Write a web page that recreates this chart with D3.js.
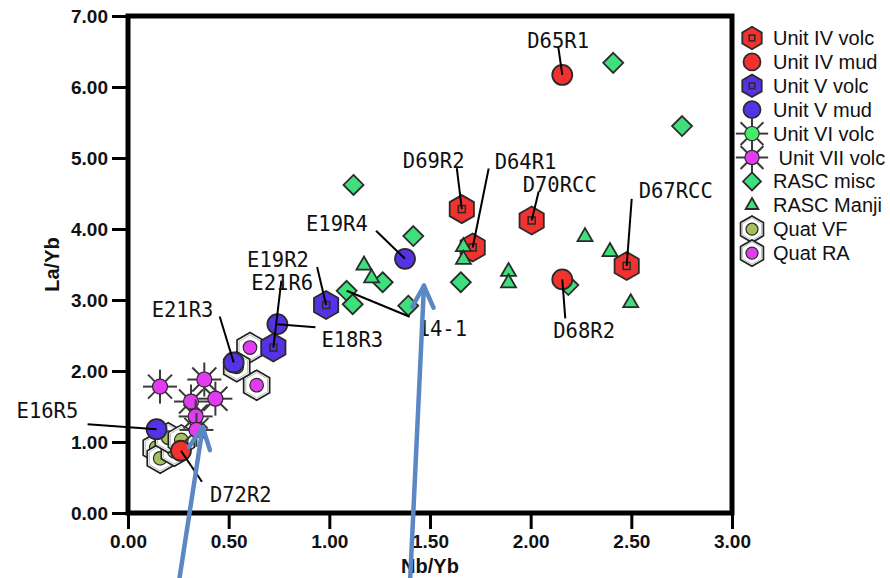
<!DOCTYPE html>
<html>
<head>
<meta charset="utf-8">
<script src="https://cdn.jsdelivr.net/npm/d3@7"></script>
<style>
  body { margin: 0; background: #fff; }
  .tick text { font-family: "Liberation Sans", Arial, sans-serif; font-weight: bold; font-size: 19px; fill: #111; }
  .tick line { stroke: #000; stroke-width: 3; }
  .domain { display: none; }
</style>
</head>
<body>
<svg id="chart" width="890" height="578"></svg>
<script>
// La/Yb against Nb/Yb, grouped by unit and sample type
const unitIVvolc = [
  { id: "D69R2", x: 1.658, y: 4.28 },
  { id: "D64R1", x: 1.712, y: 3.74 },
  { id: "D70RCC", x: 2.005, y: 4.12 },
  { id: "D67RCC", x: 2.477, y: 3.48 }
];
const unitIVmud = [
  { id: "D65R1", x: 2.157, y: 6.17 },
  { id: "D68R2", x: 2.157, y: 3.29 },
  { id: "D72R2", x: 0.263, y: 0.877 }
];
const unitVvolc = [
  { id: "E19R2", x: 0.984, y: 2.93 },
  { id: "E21R6", x: 0.722, y: 2.33 }
];
const unitVmud = [
  { id: "E19R4", x: 1.376, y: 3.58 },
  { id: "E18R3", x: 0.742, y: 2.66 },
  { id: "E21R3", x: 0.525, y: 2.12 },
  { id: "E16R5", x: 0.142, y: 1.18 }
];
const unitVIvolc = [];
const unitVIIvolc = [
  { x: 0.159, y: 1.78 }, { x: 0.379, y: 1.88 }, { x: 0.313, y: 1.57 },
  { x: 0.434, y: 1.61 }, { x: 0.336, y: 1.36 }, { x: 0.340, y: 1.17 }
];
const rascMisc = [
  { x: 2.41, y: 6.34 }, { x: 2.752, y: 5.45 }, { x: 1.12, y: 4.62 },
  { x: 1.417, y: 3.90 }, { x: 1.265, y: 3.25 }, { x: 1.653, y: 3.25 },
  { x: 2.187, y: 3.21 }, { id: "14-1", x: 1.086, y: 3.13 },
  { x: 1.116, y: 2.94 }, { x: 1.392, y: 2.92 }
];
const rascManji = [
  { x: 1.172, y: 3.49 }, { x: 1.21, y: 3.31 }, { x: 1.666, y: 3.75 },
  { x: 1.666, y: 3.57 }, { x: 1.89, y: 3.40 }, { x: 1.89, y: 3.24 },
  { x: 2.27, y: 3.89 }, { x: 2.394, y: 3.68 }, { x: 2.497, y: 2.96 }
];
const quatVF = [
  { x: 0.14, y: 0.92 }, { x: 0.16, y: 0.77 }, { x: 0.23, y: 0.87 },
  { x: 0.20, y: 1.06 }, { x: 0.265, y: 1.03 }
];
const quatRA = [
  { x: 0.606, y: 2.33 }, { x: 0.639, y: 1.80 }, { x: 0.54, y: 2.06 }
];

const xTicks = [0, 0.5, 1, 1.5, 2, 2.5, 3];
const yTicks = [0, 1, 2, 3, 4, 5, 6, 7];
const xTitle = "Nb/Yb";
const yTitle = "La/Yb";

// Sample labels: text offset (tx, ty) and leader start (lx, ly) from the point, in px
const sampleLabels = [
  { id: "D65R1", tx: -35, ty: -27, lx: -4, ly: -28 },
  { id: "D69R2", tx: -59, ty: -41, lx: -5, ly: -41 },
  { id: "D64R1", tx: 22, ty: -78, lx: 16, ly: -79 },
  { id: "D70RCC", tx: -9, ty: -28, lx: 7, ly: -29 },
  { id: "D67RCC", tx: 12, ty: -68, lx: 5, ly: -67 },
  { id: "D68R2", tx: -9, ty: 59, lx: 3, ly: 39 },
  { id: "14-1", tx: 71, ty: 45, lx: 63, ly: 26 },
  { id: "E19R4", tx: -99, ty: -28, lx: -29, ly: -28 },
  { id: "E19R2", tx: -79, ty: -38, lx: -9, ly: -38 },
  { id: "E21R6", tx: -22, ty: -58, lx: 8, ly: -67 },
  { id: "E18R3", tx: 44, ty: 23, lx: 38, ly: 3 },
  { id: "E21R3", tx: -82, ty: -45, lx: -14, ly: -46 },
  { id: "E16R5", tx: -140, ty: -11, lx: -69, ly: -5 },
  { id: "D72R2", tx: 29, ty: 51, lx: 21, ly: 31 }
];

// Arrows in data units (tail below the axis, tip inside the plot)
const arrows = [
  { x0: 0.253, y0: -0.97, x1: 0.371, y1: 1.207 },
  { x0: 1.401, y0: -0.97, x1: 1.470, y1: 3.20 }
];

const C = {
  red: "#f2322f", blue: "#5632e6", green: "#3fe07c", lime: "#45ec6a",
  magenta: "#e23cf2", olive: "#a6c05a", stroke: "#2b2b2b"
};

const svg = d3.select("#chart");
const margin = { left: 128, right: 158, top: 16, bottom: 65 };
const W = 890, H = 578;
const x = d3.scaleLinear().domain([0, 3]).range([margin.left, W - margin.right]);
const y = d3.scaleLinear().domain([0, 7]).range([H - margin.bottom, margin.top]);

// axes
svg.append("g")
  .attr("transform", `translate(0,${y(0)})`)
  .call(d3.axisBottom(x).tickValues(xTicks).tickFormat(d3.format(".2f"))
    .tickSize(16).tickSizeOuter(0).tickPadding(6));
svg.append("g")
  .attr("transform", `translate(${x(0)},0)`)
  .call(d3.axisLeft(y).tickValues(yTicks).tickFormat(d3.format(".2f"))
    .tickSize(16).tickSizeOuter(0).tickPadding(4));

svg.append("text")
  .attr("x", (x(0) + x(3)) / 2).attr("y", 573)
  .attr("text-anchor", "middle")
  .style("font-family", "'Liberation Sans Narrow', 'Liberation Sans', sans-serif")
  .style("font-weight", "bold").style("font-size", "20px").style("fill", "#111")
  .text(xTitle);
svg.append("text")
  .attr("transform", `translate(59,${(y(0) + y(7)) / 2}) rotate(-90)`)
  .attr("text-anchor", "middle")
  .style("font-family", "'Liberation Sans Narrow', 'Liberation Sans', sans-serif")
  .style("font-weight", "bold").style("font-size", "20px").style("fill", "#111")
  .text(yTitle);

// marker shapes
function hexPath(r) {
  const pts = d3.range(6).map(i => {
    const a = -Math.PI / 2 + i * Math.PI / 3;
    return [r * Math.cos(a), r * Math.sin(a)];
  });
  return "M" + pts.map(p => p.join(",")).join("L") + "Z";
}
function diamondPath(r) { return `M0,${-r}L${r},0L0,${r}L${-r},0Z`; }
function trianglePath(s) {
  const h = s * Math.sqrt(3) / 2;
  return `M0,${-h * 2 / 3}L${s / 2},${h / 3}L${-s / 2},${h / 3}Z`;
}

const drawers = {
  volcHex(g, fill, k) {
    g.append("path").attr("d", hexPath(14 * k)).attr("fill", fill)
      .attr("stroke", C.stroke).attr("stroke-width", 1.8);
    const s = 7 * k;
    g.append("rect").attr("x", -s / 2).attr("y", -s / 2).attr("width", s).attr("height", s)
      .attr("fill", "none").attr("stroke", C.stroke).attr("stroke-width", 1.6);
  },
  circle(g, fill, k) {
    g.append("circle").attr("r", 10 * k).attr("fill", fill)
      .attr("stroke", C.stroke).attr("stroke-width", 1.8);
  },
  star(g, fill, k) {
    const L = 17 * k;
    d3.range(8).forEach(i => {
      const a = i * Math.PI / 4;
      g.append("line").attr("x1", 0).attr("y1", 0)
        .attr("x2", L * Math.cos(a)).attr("y2", L * Math.sin(a))
        .attr("stroke", "#3a3a3a").attr("stroke-width", 2);
    });
    g.append("circle").attr("r", 7.5 * k).attr("fill", fill)
      .attr("stroke", C.stroke).attr("stroke-width", 1.2);
  },
  diamond(g, fill, k) {
    g.append("path").attr("d", diamondPath(10 * k)).attr("fill", fill)
      .attr("stroke", C.stroke).attr("stroke-width", 1.8);
  },
  triangle(g, fill, k) {
    g.append("path").attr("d", trianglePath(15 * k)).attr("fill", fill)
      .attr("stroke", C.stroke).attr("stroke-width", 1.8);
  },
  quatHex(g, fill, k) {
    g.append("path").attr("d", hexPath(15 * k)).attr("fill", "#fff")
      .attr("stroke", "#222").attr("stroke-width", 1.7);
    g.append("path").attr("d", hexPath(12.6 * k)).attr("fill", "none")
      .attr("stroke", "#bdbdbd").attr("stroke-width", 1);
    g.append("circle").attr("r", 6.8 * k).attr("fill", fill)
      .attr("stroke", C.stroke).attr("stroke-width", 1.2);
  }
};

const series = [
  { name: "Unit IV volc", data: unitIVvolc, shape: "volcHex", fill: C.red },
  { name: "Unit IV mud", data: unitIVmud, shape: "circle", fill: C.red },
  { name: "Unit V volc", data: unitVvolc, shape: "volcHex", fill: C.blue },
  { name: "Unit V mud", data: unitVmud, shape: "circle", fill: C.blue },
  { name: "Unit VI volc", data: unitVIvolc, shape: "star", fill: C.lime },
  { name: " Unit VII volc", data: unitVIIvolc, shape: "star", fill: C.magenta },
  { name: "RASC misc", data: rascMisc, shape: "diamond", fill: C.green },
  { name: "RASC Manji", data: rascManji, shape: "triangle", fill: C.green },
  { name: "Quat VF", data: quatVF, shape: "quatHex", fill: C.olive },
  { name: "Quat RA", data: quatRA, shape: "quatHex", fill: C.magenta }
];
const byName = Object.fromEntries(series.map(s => [s.name.trim(), s]));
const legendScale = { volcHex: 0.8, circle: 0.85, star: 0.95, diamond: 0.9, triangle: 0.85, quatHex: 0.88 };

// plotting order (later groups sit on top)
const drawOrder = ["Quat VF", "Quat RA", "RASC misc", "Unit IV volc", "Unit IV mud",
  "RASC Manji", "Unit VI volc", "Unit VII volc", "Unit V volc", "Unit V mud"];

const plot = svg.append("g");
drawOrder.forEach(n => {
  const s = byName[n];
  s.data.forEach(d => {
    const g = plot.append("g").attr("transform", `translate(${x(d.x)},${y(d.y)})`);
    drawers[s.shape](g, s.fill, 1);
  });
});

// frame
svg.append("rect")
  .attr("x", x(0)).attr("y", y(7))
  .attr("width", x(3) - x(0)).attr("height", y(0) - y(7))
  .attr("fill", "none").attr("stroke", "#000").attr("stroke-width", 5);

// sample labels with leader lines
const allPts = {};
series.forEach(s => s.data.forEach(d => { if (d.id) allPts[d.id] = d; }));
const lab = svg.append("g");
sampleLabels.forEach(l => {
  const d = allPts[l.id];
  const px = x(d.x), py = y(d.y);
  lab.append("line")
    .attr("x1", px + l.lx).attr("y1", py + l.ly).attr("x2", px).attr("y2", py)
    .attr("stroke", "#000").attr("stroke-width", 2);
  lab.append("text")
    .attr("x", px + l.tx).attr("y", py + l.ty)
    .style("font-family", "'DejaVu Sans Mono', monospace")
    .style("font-size", "20.5px").style("fill", "#111")
    .text(l.id);
});

// legend
const leg = svg.append("g").attr("transform", "translate(752,38)");
series.forEach((s, i) => {
  const row = leg.append("g").attr("transform", `translate(0,${i * 23.9})`);
  const mg = row.append("g");
  drawers[s.shape](mg, s.fill, legendScale[s.shape]);
  row.append("text")
    .attr("x", 21).attr("y", 7)
    .attr("xml:space", "preserve")
    .style("white-space", "pre")
    .style("font-family", "'Liberation Sans', Arial, sans-serif")
    .style("font-size", "20px").style("fill", "#111")
    .text(s.name);
});

// arrows
const arr = svg.append("g");
arrows.forEach(a => {
  const x0 = x(a.x0), y0 = y(a.y0), x1 = x(a.x1), y1 = y(a.y1);
  const ang = Math.atan2(y1 - y0, x1 - x0);
  const hl = 24, spread = 0.46;
  arr.append("line").attr("x1", x0).attr("y1", y0).attr("x2", x1).attr("y2", y1)
    .attr("stroke", "#5b87c4").attr("stroke-width", 4.5).attr("stroke-linecap", "round");
  [-spread, spread].forEach(s => {
    arr.append("line").attr("x1", x1).attr("y1", y1)
      .attr("x2", x1 - hl * Math.cos(ang + s)).attr("y2", y1 - hl * Math.sin(ang + s))
      .attr("stroke", "#5b87c4").attr("stroke-width", 4.5).attr("stroke-linecap", "round");
  });
});
</script>
</body>
</html>
